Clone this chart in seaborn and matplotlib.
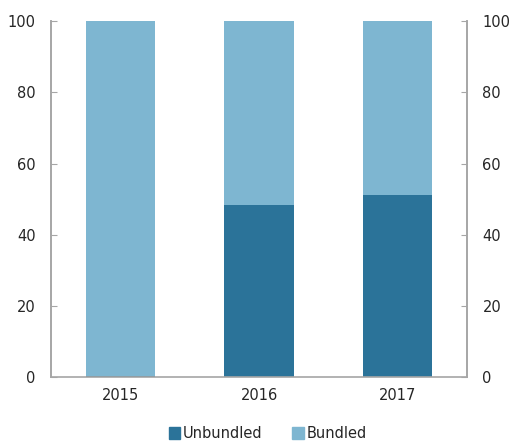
import matplotlib.pyplot as plt
import pandas as pd
import seaborn as sns
from matplotlib.patches import Patch

years = ["2015", "2016", "2017"]
unbundled = [0.4, 48.4, 51.2]
bundled = [99.6, 51.6, 48.8]

c_unb = "#2b7399"
c_bun = "#7eb6d1"
grey = "#a6a6a6"

df = pd.DataFrame({"year": years, "unbundled": unbundled, "bundled": bundled})
df["total"] = df["unbundled"] + df["bundled"]

sns.set_style("white")
plt.rcParams["font.family"] = ["DejaVu Sans"]

fig = plt.figure(figsize=(5.1, 4.41), dpi=100)
ax = fig.add_axes([0.1, 0.145, 0.816, 0.807])

sns.barplot(data=df, x="year", y="total", color=c_bun, width=0.5,
            saturation=1, ax=ax, linewidth=0)
sns.barplot(data=df, x="year", y="unbundled", color=c_unb, width=0.5,
            saturation=1, ax=ax, linewidth=0)

ax.set_ylim(0, 100)
ax.set_xlim(-0.5, 2.5)
ax.set_yticks(range(0, 101, 20))
ax.set_xlabel("")
ax.set_ylabel("")
ax.tick_params(axis="y", direction="in", length=4, color=grey, labelsize=10.5,
               pad=11, left=True)
ax.tick_params(axis="x", length=0, labelsize=10.5, pad=8)

ax2 = ax.twinx()
ax2.set_ylim(0, 100)
ax2.set_yticks(range(0, 101, 20))
ax2.tick_params(axis="y", direction="in", length=4, color=grey, labelsize=10.5,
                pad=11, right=True)

for a in (ax, ax2):
    a.spines["top"].set_visible(False)
    for s in ("left", "right", "bottom"):
        a.spines[s].set_color(grey)
        a.spines[s].set_linewidth(1.2)
ax2.spines["bottom"].set_visible(False)

handles = [Patch(color=c_unb, label="Unbundled"), Patch(color=c_bun, label="Bundled")]
fig.legend(handles=handles, loc="lower center", bbox_to_anchor=(0.525, -0.03),
           ncol=2, frameon=False, fontsize=10.5, handlelength=0.8,
           handleheight=0.8, handletextpad=0.2, columnspacing=2.0)

fig.savefig("out.png", dpi=100)
